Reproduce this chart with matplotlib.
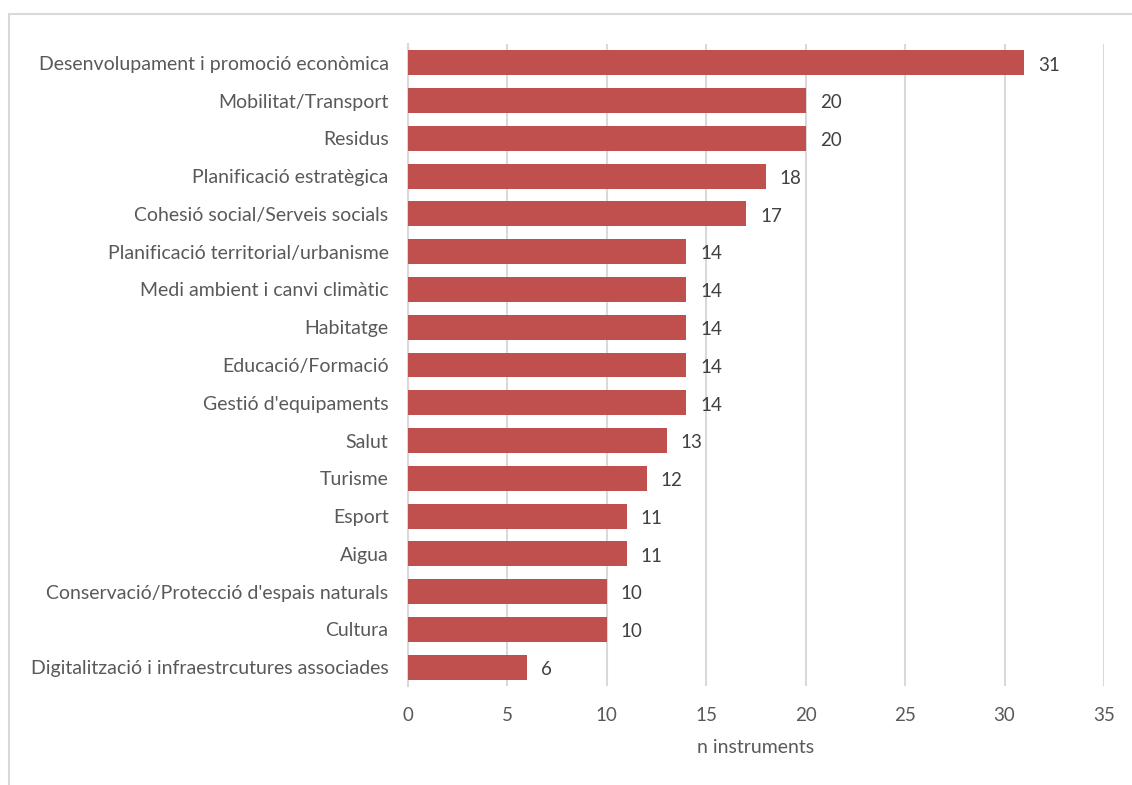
import matplotlib.pyplot as plt
from matplotlib.patches import Rectangle

categories = [
    "Desenvolupament i promoció econòmica",
    "Mobilitat/Transport",
    "Residus",
    "Planificació estratègica",
    "Cohesió social/Serveis socials",
    "Planificació territorial/urbanisme",
    "Medi ambient i canvi climàtic",
    "Habitatge",
    "Educació/Formació",
    "Gestió d'equipaments",
    "Salut",
    "Turisme",
    "Esport",
    "Aigua",
    "Conservació/Protecció d'espais naturals",
    "Cultura",
    "Digitalització i infraestrcutures associades",
]
values = [31, 20, 20, 18, 17, 14, 14, 14, 14, 14, 13, 12, 11, 11, 10, 10, 6]
x_ticks = [0, 5, 10, 15, 20, 25, 30, 35]

plt.rcParams["font.family"] = ["Lato", "DejaVu Sans"]
text_color = "#595959"
grid_color = "#d9d9d9"
bar_color = "#c0504d"

fig = plt.figure(figsize=(11.32, 7.85), dpi=100)
fig.patches.append(Rectangle((9 / 1132, -0.1), 1.2, 1 - 14 / 785 + 0.1,
                             transform=fig.transFigure, fill=False,
                             edgecolor=grid_color, linewidth=1.5))

ax = fig.add_axes([408 / 1132, 1 - 686 / 785, 696 / 1132, 642 / 785])
pos = list(range(len(categories)))
ax.barh(pos, values, height=0.66, color=bar_color, zorder=3)
for p, v in zip(pos, values):
    ax.text(v + 0.7, p + 0.06, str(v), va="center", ha="left",
            fontsize=13.5, color="#404040")

ax.set_xlim(0, 35)
ax.set_ylim(len(categories) - 0.5, -0.5)
ax.set_xticks(x_ticks)
ax.set_yticks(pos)
ax.set_yticklabels(categories, fontsize=14)
ax.tick_params(axis="both", length=0, colors=text_color)
ax.tick_params(axis="x", pad=15, labelsize=13.5)
ax.tick_params(axis="y", pad=14)
for lbl in ax.get_yticklabels():
    lbl.set_va("center_baseline")
ax.xaxis.grid(True, color=grid_color, linewidth=1.5, zorder=0)
for side in ["top", "right", "bottom"]:
    ax.spines[side].set_visible(False)
ax.spines["left"].set_color(grid_color)
ax.spines["left"].set_linewidth(1.5)
ax.set_xlabel("n instruments", fontsize=14, color=text_color, labelpad=11)

fig.savefig("out.png", dpi=100)
